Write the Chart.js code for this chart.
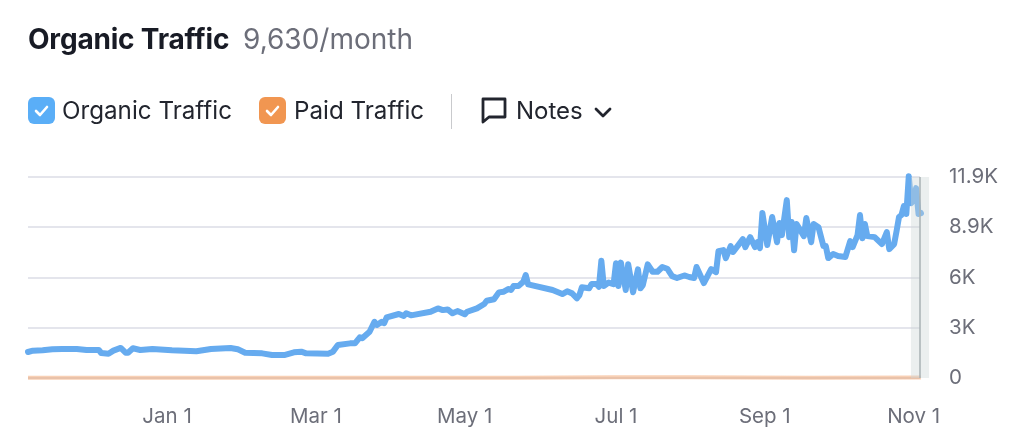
<!DOCTYPE html>
<html><head><meta charset="utf-8">
<script src="https://cdn.jsdelivr.net/npm/chart.js@4"></script>
<style>
html,body{margin:0;padding:0;background:#fff;width:1024px;height:445px;overflow:hidden;font-family:Inter,sans-serif}
canvas{position:absolute;left:0;top:0}
.t{position:absolute;white-space:nowrap;line-height:1}
.box{position:absolute;top:97px;width:27px;height:27px;border-radius:6px}
.box svg,.ic{position:absolute;left:0;top:0}
</style></head><body>
<canvas id="c" width="1024" height="445"></canvas>
<div class="t" style="left:28px;top:25px;font-size:28px;font-weight:700;color:#181b25;letter-spacing:-.2px">Organic Traffic</div>
<div class="t" style="left:243px;top:25px;font-size:28px;color:#6c6e79">9,630/month</div>
<div class="box" style="left:28px;background:#5aaef7"><svg width="27" height="27"><path d="M8 14l4 4 7-8" fill="none" stroke="#fff" stroke-width="2.6" stroke-linecap="round" stroke-linejoin="round"/></svg></div>
<div class="t" style="left:62px;top:99px;font-size:24.2px;color:#22252e">Organic Traffic</div>
<div class="box" style="left:259px;background:#f19651"><svg width="27" height="27"><path d="M8 14l4 4 7-8" fill="none" stroke="#fff" stroke-width="2.6" stroke-linecap="round" stroke-linejoin="round"/></svg></div>
<div class="t" style="left:294px;top:99px;font-size:24.2px;color:#22252e">Paid Traffic</div>
<div style="position:absolute;left:451px;top:94px;width:1px;height:35px;background:#c9cacd"></div>
<svg class="ic" style="left:481px;top:97px" width="26" height="28"><path d="M2 2h22v18H8l-6 5z" fill="none" stroke="#22252e" stroke-width="2.8" stroke-linejoin="round"/></svg>
<div class="t" style="left:516px;top:99px;font-size:24px;color:#22252e">Notes</div>
<svg class="ic" style="left:594px;top:107px" width="18" height="12"><path d="M2 2l7 7 7-7" fill="none" stroke="#22252e" stroke-width="2.8" stroke-linecap="round" stroke-linejoin="round"/></svg>
<script>
const days=[0,2,6,10,14,20,24,29,30,33,35,38,40,41,43,46,51,59,69,75,83,86,89,96,100,105,109,112,114,123,125,127,132,134,136,137,140,142,143,145,146,147,152,154,155,157,165,168,170,172,174,176,179,180,184,187,188,191,193,195,197,198,199,201,203,204,205,215,219,221,223,225,226,227,230,231,233,234,235,236,238,240,241,242,243,245,246,248,250,251,252,254,256,258,260,262,264,266,269,271,273,274,277,280,282,283,285,286,288,289,293,294,296,298,299,300,301,303,305,307,308,309,311,312,313,314,315,318,319,321,322,324,326,327,328,330,332,335,337,338,340,341,342,343,344,347,350,352,353,355,356,357,358,359,360,361,362,363,364,365,366];
const organicTraffic=[1540,1620,1640,1700,1720,1720,1660,1660,1480,1440,1620,1780,1500,1500,1760,1660,1720,1640,1580,1720,1780,1700,1500,1460,1360,1360,1520,1560,1460,1440,1560,1950,2050,2050,2410,2350,2740,3330,3140,3330,3250,3590,3790,3670,3830,3710,3920,4120,4020,4060,3830,3960,3770,3920,4120,4380,4570,4660,5070,5110,5270,5210,5440,5440,5700,6090,5540,5210,4970,5130,5010,4720,4910,5370,5310,5560,5560,5400,6940,5450,5650,5550,6790,5450,6830,5210,6740,5080,6430,5310,5500,6730,6290,6290,6570,6470,6030,5920,6070,5980,5920,6570,5620,6450,6270,7510,7570,7100,7810,7460,8220,7750,8340,7750,8040,7690,9770,7870,9530,8040,9180,8460,10530,8340,9240,7570,9120,8400,9470,8040,9120,8930,7810,7810,7100,7340,7220,7160,8100,7750,8460,9650,8280,9120,8400,8340,7930,8640,7630,7930,8700,9530,9650,10180,9710,11950,10350,10530,11240,9710,9760];
const paidDays=[0,60,120,200,240,270,320,366];
const paidTraffic=[15,15,15,20,50,50,20,25];
const yTicks=[0,2975,5950,8925,11900];
const yTickLabels=['0','3K','6K','8.9K','11.9K'];
const xTicks=[57,118,179,241,302,363];
const xTickLabels=['Jan 1','Mar 1','May 1','Jul 1','Sep 1','Nov 1'];
const xMax=365.6, bandStart=361.9, bandEnd=369.3, cursorDay=365.6;
const grey='#6c6e79';
const band={id:'band',afterDatasetsDraw(ch){
  const {ctx,scales:{x,y}}=ch,t=y.getPixelForValue(11900),b=y.getPixelForValue(0);
  ctx.save();
  ctx.fillStyle='rgba(205,214,216,.4)';
  ctx.fillRect(x.getPixelForValue(bandStart),t,x.getPixelForValue(bandEnd)-x.getPixelForValue(bandStart),b-t);
  ctx.fillStyle='#a9b3b5';
  ctx.fillRect(x.getPixelForValue(cursorDay)-.75,t,1.5,b-t);
  ctx.restore();
}};
new Chart(document.getElementById('c'),{type:'line',
 data:{datasets:[
  {label:'Paid Traffic',data:paidDays.map((d,i)=>({x:d,y:paidTraffic[i]})),borderColor:'rgba(240,150,90,.45)',borderWidth:4,pointRadius:0,clip:false,order:2},
  {label:'Organic Traffic',data:days.map((d,i)=>({x:d,y:organicTraffic[i]})),borderColor:'#66abef',borderWidth:6,pointRadius:0,tension:0,borderJoinStyle:'round',borderCapStyle:'round',clip:false,order:1}
 ]},
 options:{responsive:false,animation:false,devicePixelRatio:1,
  layout:{padding:{left:28,top:177,right:0,bottom:0}},
  plugins:{legend:{display:false},tooltip:{enabled:false}},
  scales:{
   x:{type:'linear',min:0,max:xMax,
    grid:{display:false},border:{display:false},
    afterFit(s){s.height=67},
    afterBuildTicks(s){s.ticks=xTicks.map(v=>({value:v}))},
    ticks:{autoSkip:false,maxRotation:0,padding:19,color:grey,font:{family:'Inter',size:20.5},callback:(v)=>xTickLabels[xTicks.indexOf(v)]}},
   y:{position:'right',min:0,max:11900,
    grid:{color:'#e4e5ec',lineWidth:2,drawTicks:false},border:{display:false},
    afterFit(s){s.width=104},
    afterBuildTicks(s){s.ticks=yTicks.map(v=>({value:v}))},
    ticks:{padding:29,color:grey,align:'center',font:{family:'Inter',size:20.5},callback:(v)=>yTickLabels[yTicks.indexOf(v)]}}
  }},
 plugins:[band]});
</script></body></html>
